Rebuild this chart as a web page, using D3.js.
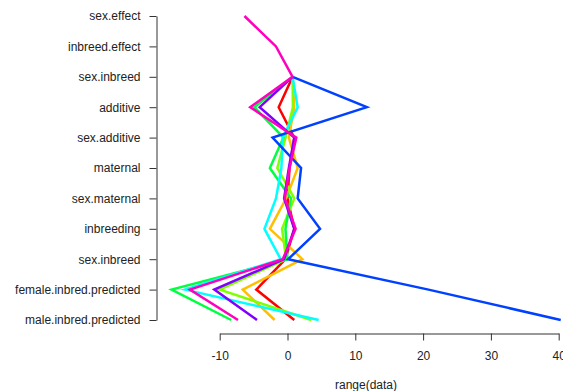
<!DOCTYPE html>
<html>
<head>
<meta charset="utf-8">
<script src="https://cdn.jsdelivr.net/npm/d3@7"></script>
<style>
  body { margin: 0; background: #fff; }
  svg text { font-family: "Liberation Sans", Arial, sans-serif; font-size: 12px; fill: #222; }
</style>
</head>
<body>
<svg width="563" height="391"></svg>
<script>
var svg = d3.select("svg"),
    width = +svg.attr("width"),
    height = +svg.attr("height");

// row labels, top to bottom
var labels = ["sex.effect", "inbreed.effect", "sex.inbreed", "additive", "sex.additive",
              "maternal", "sex.maternal", "inbreeding", "sex.inbreed",
              "female.inbred.predicted", "male.inbred.predicted"];

var xTicks = [-10, 0, 10, 20, 30, 40];

// one array per line, same order as labels (null = no value)
var red     = [null, null, 0.75, -1.3,  1.0,  0.3,  0.0,  1.0, -0.3,  -4.6,  1.0];
var orange  = [null, null, 0.75,  1.0,  0.2,  1.5, -0.2, -2.6,  2.2,  -6.6, -1.9];
var ygreen  = [null, null, 0.75,  0.8, -0.3, -1.5,  1.0, -0.8, -0.2, -10.0,  3.5];
var green   = [null, null, 0.75, -4.9, -0.6, -2.6,  0.5, -0.3,  0.0, -17.1, -8.3];
var cyan    = [null, null, 0.75,  1.5, -0.7, -0.9, -1.7, -3.4, -1.0, -15.1,  4.6];
var blue    = [null, null, 0.75, 11.7, -2.2,  2.0,  1.5,  4.8,  0.1,  20.8, 40.3];
var purple  = [null, null, 0.75, -4.1,  1.0,  0.2, -0.5,  1.0, -0.5, -10.8, -4.5];
var magenta = [-6.35, -1.7, 0.75, -5.5, 1.3,  0.3, -0.4,  1.2, -0.7, -14.4, -7.3];

var series = [red, orange, ygreen, green, cyan, blue, purple, magenta];
var colors = ["#FF0000", "#FFBF00", "#80FF00", "#00FF40", "#00FFFF", "#0040FF", "#8000FF", "#FF00BF"];

var x = d3.scaleLinear()
    .domain([-10, 40])
    .range([219.7, 558.7]);

var y = d3.scaleLinear()
    .domain([0, labels.length - 1])
    .range([16, 320]);

// y axis
var gy = svg.append("g")
    .attr("transform", "translate(156.5,0)")
    .call(d3.axisLeft(y)
          .tickValues(d3.range(labels.length))
          .tickFormat(function(i) { return labels[i]; })
          .tickSize(7)
          .tickSizeOuter(0)
          .tickPadding(9));
gy.select(".domain").attr("stroke", "#333");
gy.selectAll(".tick line").attr("stroke", "#333");
gy.selectAll("text").attr("font-size", 12).attr("font-family", null).attr("fill", "#222");

// x axis (plain hyphen for negatives, like R)
var gx = svg.append("g")
    .attr("transform", "translate(0,333.5)")
    .call(d3.axisBottom(x)
          .tickValues(xTicks)
          .tickFormat(function(d) { return String(d); })
          .tickSize(7)
          .tickSizeOuter(0)
          .tickPadding(11));
gx.select(".domain").attr("stroke", "#333");
gx.selectAll(".tick line").attr("stroke", "#333");
gx.selectAll("text").attr("font-size", 12).attr("font-family", null).attr("fill", "#222");

svg.append("text")
    .attr("x", 366)
    .attr("y", 389)
    .attr("text-anchor", "middle")
    .text("range(data)");

var line = d3.line()
    .defined(function(d) { return d != null; })
    .x(function(d) { return x(d); })
    .y(function(d, i) { return y(i); });

svg.append("g")
    .selectAll("path")
    .data(series)
    .enter().append("path")
    .attr("fill", "none")
    .attr("stroke", function(d, i) { return colors[i]; })
    .attr("stroke-width", 2.5)
    .attr("stroke-linejoin", "miter")
    .attr("d", line);
</script>
</body>
</html>
